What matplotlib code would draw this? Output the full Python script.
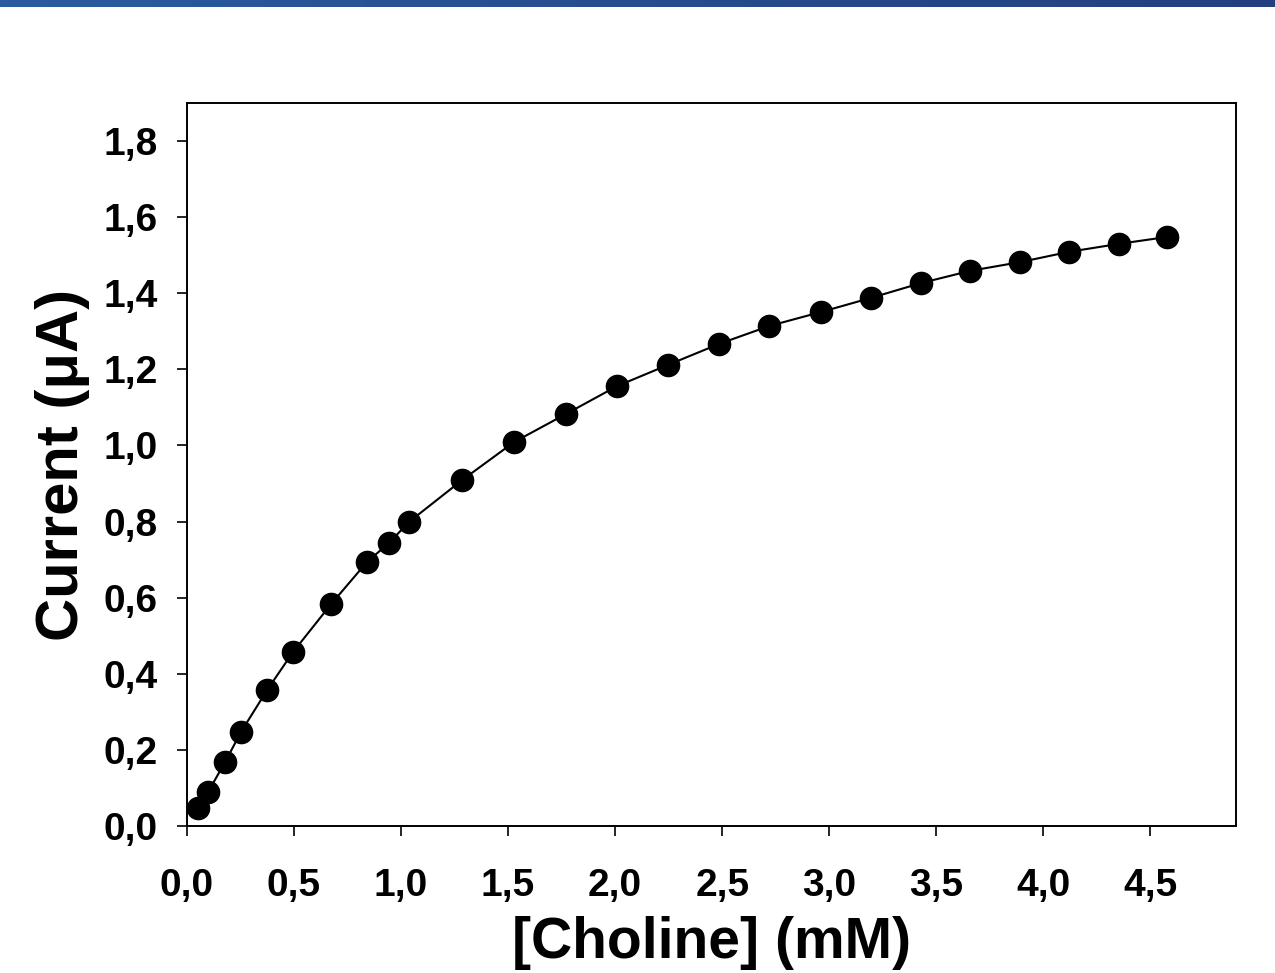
import numpy as np
import matplotlib
matplotlib.use("Agg")
from matplotlib import pyplot as plt
from matplotlib.colors import LinearSegmentedColormap

plt.rcParams['font.family'] = ['Liberation Sans', 'DejaVu Sans']
plt.rcParams['font.weight'] = 'bold'

# choline concentration (mM) and measured current (uA)
choline = [0.051, 0.098, 0.178, 0.252, 0.374, 0.495, 0.673, 0.841, 0.944, 1.037,
           1.285, 1.528, 1.771, 2.009, 2.248, 2.486, 2.720, 2.963, 3.196, 3.430,
           3.659, 3.893, 4.121, 4.355, 4.579]
current = [0.047, 0.089, 0.168, 0.247, 0.357, 0.457, 0.583, 0.694, 0.744, 0.799,
           0.909, 1.009, 1.083, 1.156, 1.212, 1.267, 1.314, 1.351, 1.388, 1.427,
           1.459, 1.482, 1.509, 1.530, 1.548]

x_ticks = [0.5 * i for i in range(10)]
y_ticks = [0.2 * i for i in range(10)]

fig = plt.figure(figsize=(12.75, 9.73), dpi=100)

# blue banner at the top
bar = fig.add_axes([0, 1 - 7 / 973, 1, 7 / 973])
cmap = LinearSegmentedColormap.from_list("banner", ["#2a5c9f", "#233f7e"])
bar.imshow(np.linspace(0, 1, 256).reshape(1, -1), aspect='auto', cmap=cmap)
bar.axis('off')

ax = fig.add_axes([187 / 1275, 147 / 973, 1049 / 1275, 723 / 973])
ax.plot(choline, current, 'k-', lw=1.5)
ax.plot(choline, current, 'ko', ms=16)

ax.set_xlim(0, 4.9)
ax.set_ylim(0, 1.9)
ax.set_xticks(x_ticks)
ax.set_yticks(y_ticks)
ax.set_xticklabels([f"{v:.1f}".replace('.', ',') for v in x_ticks])
ax.set_yticklabels([f"{v:.1f}".replace('.', ',') for v in y_ticks])
ax.tick_params(direction='out', length=7, width=1.2, labelsize=28)
ax.tick_params(axis='x', pad=23)
ax.tick_params(axis='y', pad=14)

for sp in ax.spines.values():
    sp.set_linewidth(1.4)

ax.set_xlabel("[Choline] (mM)", fontsize=41, fontweight='bold', labelpad=9)
ax.set_ylabel("Current (μA)", fontsize=43, fontweight='bold', labelpad=10)

fig.savefig("out.png", dpi=100)
